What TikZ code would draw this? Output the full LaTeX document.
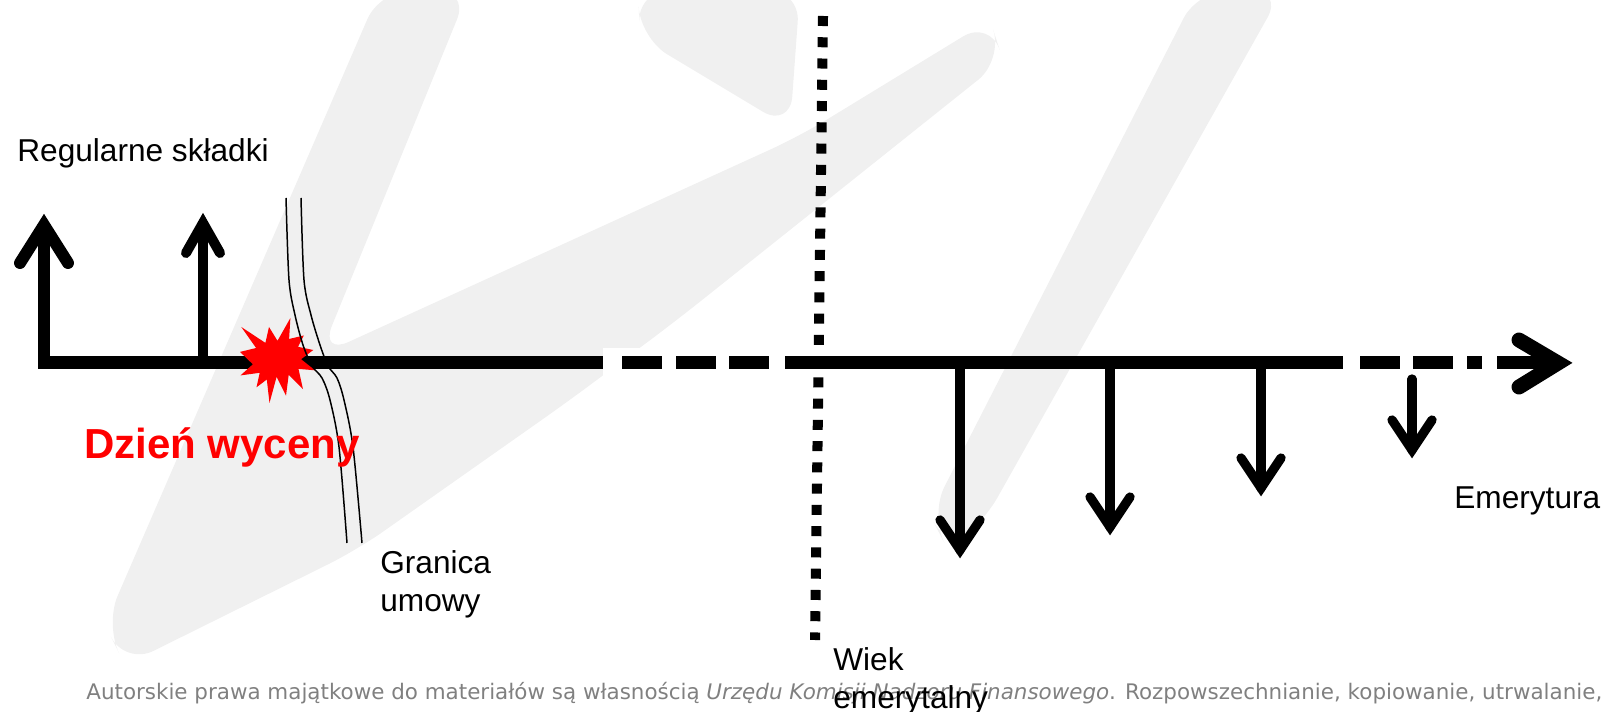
\documentclass[tikz,border=0pt]{standalone}
\usepackage{fontspec}
\setmainfont{Liberation Sans}
\newfontfamily\notefont{DejaVu Sans}
\usepackage{xcolor}
\definecolor{wmgray}{RGB}{240,240,240}
\definecolor{notegray}{RGB}{128,128,128}

\begin{document}
\begin{tikzpicture}[x=0.02cm, y=-0.02cm,
    axisline/.style={line width=7.4pt},
    cashdown/.style={line width=5.3pt, line cap=round, line join=miter},
    boundline/.style={line width=0.85pt},
    label/.style={anchor=base west, inner sep=0pt, align=left,
        font=\fontsize{18}{21.6}\selectfont}]

    \useasboundingbox (0,0) rectangle (1605,712);

    % The watermark
    \fill[wmgray, rounded corners=18] (380,-10) -- (105,625) -- (125,665)
        -- (357,550) -- (570,400) -- (677,320) -- (800,222) -- (1003,60)
        -- (990,20) -- (800,136) -- (320,355) -- (469,-10) -- cycle;
    \fill[wmgray, rounded corners=18] (638,-10) -- (640,38) -- (790,128)
        -- (800,-10) -- cycle;
    \fill[wmgray, rounded corners=18] (1198,-10) -- (930,515) -- (948,550)
        -- (982,525) -- (1283,-10) -- cycle;
    \fill[white] (603,348) rectangle (785,380);

    % The time axis
    \draw[axisline] (44,363) -- (603,363);
    \draw[axisline] (622,363) -- (662,363);
    \draw[axisline] (676,363) -- (716,363);
    \draw[axisline] (729,363) -- (769,363);
    \draw[axisline] (785,363) -- (1343,363);
    \draw[axisline] (1360,363) -- (1400,363);
    \draw[axisline] (1413,363) -- (1453,363);
    \draw[axisline] (1467,363) -- (1482,363);
    \draw[axisline] (1497,363) -- (1558,363);
    \draw[line width=8.5pt, line cap=round, line join=miter]
        (1519,340) -- (1558,363) -- (1519,387);

    % The premiums
    \draw[line width=6.8pt] (44,369) -- (44,225);
    \draw[line width=6.8pt, line cap=round, line join=miter]
        (20,263) -- (44,225) -- (68,263);
    \draw[line width=5.7pt] (203,363) -- (203,223);
    \draw[line width=5.7pt, line cap=round, line join=miter]
        (186,253) -- (203,223) -- (220,253);

    % The pension payments
    \draw[cashdown] (960,363) -- (960,550);
    \draw[cashdown] (940,520) -- (960,550) -- (980,520);
    \draw[cashdown] (1110,363) -- (1110,527);
    \draw[cashdown] (1090,497) -- (1110,527) -- (1130,497);
    \draw[cashdown] (1261,363) -- (1261,488);
    \draw[cashdown] (1241,458) -- (1261,488) -- (1281,458);
    \draw[cashdown] (1412,379) -- (1412,450);
    \draw[cashdown] (1392,420) -- (1412,450) -- (1432,420);

    % The retirement age
    \draw[line width=5.7pt, dash pattern=on 5.7pt off 6.4pt] (823,16) -- (815,640);

    % The valuation date
    \fill[red] (277.5,340.8) -- (290.4,318.0) -- (289.1,339.0) -- (303.8,335.5)
        -- (298.0,346.8) -- (313.3,350.0) -- (301.1,359.2) -- (315.0,370.3)
        -- (298.5,368.9) -- (303.0,389.2) -- (288.7,374.9) -- (286.0,395.7)
        -- (276.6,376.8) -- (269.5,403.0) -- (266.8,379.5) -- (256.5,387.3)
        -- (259.7,372.8) -- (240.5,375.4) -- (252.9,364.3) -- (240.0,351.9)
        -- (256.1,348.0) -- (241.3,327.0) -- (265.4,342.9) -- (269.0,327.0)
        -- cycle;

    % The contract boundary
    \draw[boundline] plot[smooth] coordinates {(286,198) (289,280) (295,315)
        (303,345) (312,366) (322,378) (330,400) (339,447) (347,543)};
    \draw[boundline] plot[smooth] coordinates {(301,198) (304,280) (311,315)
        (320,345) (328,366) (337,378) (344,400) (353,447) (362,543)};

    % The words
    \node[label] (regular) at (17,162) {Regularne składki};
    \node[label, text=red, font=\fontsize{23.9}{28}\selectfont\bfseries]
        (valuation) at (84,459) {Dzień wyceny};
    \node[label] (boundary) at (380,611) {Granica\\umowy};
    \node[label] (pension) at (1454,508) {Emerytura};

    % The copyright note
    \node[anchor=base west, inner sep=0pt, text=notegray,
        font=\notefont\fontsize{12.2}{14}\selectfont] (copyright) at (86,699)
        {Autorskie prawa majątkowe do materiałów są własnością \textit{Urzędu
        Komisji Nadzoru Finansowego}. Rozpowszechnianie, kopiowanie, utrwalanie,};

    \node[label] (retireage) at (833,708) {Wiek\\emerytalny};

\end{tikzpicture}
\end{document}
